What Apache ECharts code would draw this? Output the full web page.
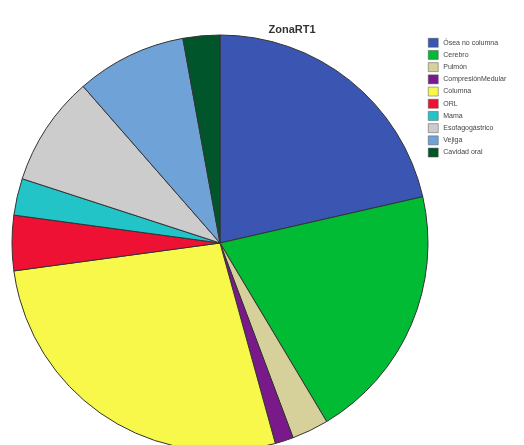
<!DOCTYPE html>
<html>
<head>
<meta charset="utf-8">
<script src="https://cdn.jsdelivr.net/npm/echarts@6/dist/echarts.min.js"></script>
<style>html,body{margin:0;padding:0;background:#fff;}#c{width:524px;height:445px;}</style>
</head>
<body>
<div id="c"></div>
<script>
const categories = ["Ósea no columna","Cerebro","Pulmón","CompresiónMedular","Columna","ORL","Mama","Esofagogástrico","Vejiga","Cavidad oral"];
const values = [15,14,2,1,19,3,2,6,6,2];
const colors = ["#3a56b2","#00bb33","#d6d09a","#7a1a8a","#f8f84a","#ee1133","#22c4c8","#cccccc","#6fa3d8","#00552a"];
const chart = echarts.init(document.getElementById('c'));
chart.setOption({
  animation:false,
  title:{text:'ZonaRT1',left:287,top:19,textAlign:'center',textStyle:{fontFamily:'Liberation Sans',fontSize:11,fontWeight:'bold',color:'#333'}},
  legend:{orient:'vertical',left:428,top:38,padding:0,itemWidth:10,itemHeight:9,itemGap:2.7,icon:'rect',
    itemStyle:{borderColor:'#555',borderWidth:0.5},
    textStyle:{fontFamily:'Liberation Sans',fontSize:7,lineHeight:9,color:'#444'},
    data:categories},
  color:colors,
  series:[{type:'pie',center:[220,243],radius:[0,208],startAngle:90,clockwise:true,
    label:{show:false},labelLine:{show:false},silent:true,
    itemStyle:{borderColor:'#333',borderWidth:1},
    data:categories.map((n,i)=>({name:n,value:values[i]}))}]
});
</script>
</body>
</html>
